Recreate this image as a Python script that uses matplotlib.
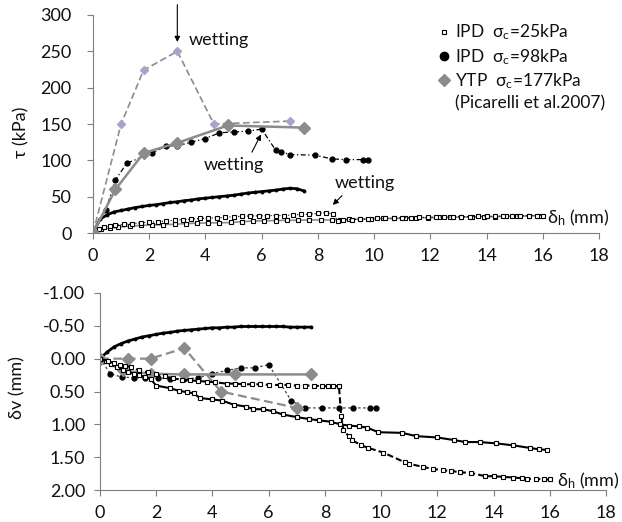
import matplotlib
matplotlib.use('Agg')
from matplotlib import pyplot as plt
from matplotlib.lines import Line2D

plt.rcParams['font.family'] = ['Lato', 'DejaVu Sans']
plt.rcParams['mathtext.fontset'] = 'custom'
plt.rcParams['mathtext.rm'] = 'Lato'
plt.rcParams['mathtext.default'] = 'rm'

# ---- shear stress vs horizontal displacement ----
# YTP (Picarelli et al. 2007), sigma_c = 177 kPa
ytp_dh = [0, 0.8, 1.8, 3.0, 4.8, 7.5]
ytp_tau = [0, 60, 110, 124, 148, 145]
ytp_wet_dh = [0, 1.0, 1.8, 3.0, 4.3, 7.0]
ytp_wet_tau = [0, 150, 224, 250, 150, 154]

# IPD sigma_c = 98 kPa
ipd98_dh = [0, 0.25, 0.5, 0.75, 1.0, 1.25, 1.5, 1.75, 2.0, 2.25, 2.5, 2.75, 3.0, 3.25, 3.5, 3.75,
            4.0, 4.25, 4.5, 4.75, 5.0, 5.25, 5.5, 5.75, 6.0, 6.25, 6.5, 6.75, 7.0, 7.25, 7.5]
ipd98_tau = [0, 19, 25, 29, 31, 33, 35, 36.5, 38, 39, 40.5, 42, 43, 44.5, 45.5, 47,
             48, 49, 50, 51, 52, 53.5, 55, 56, 57, 58, 59, 60.5, 61.5, 61, 58]
ipd98_wet_dh = [0, 0.45, 0.8, 1.2, 2.1, 2.6, 3.0, 3.5, 4.0, 4.5, 5.0, 5.5, 6.0, 6.5, 6.7, 7.0,
                7.9, 8.5, 9.0, 9.6, 9.8]
ipd98_wet_tau = [0, 31, 73, 96, 110, 120, 120, 125, 130, 138, 139, 140, 143, 114, 112, 108,
                 107, 102, 101, 101, 100]

# IPD sigma_c = 25 kPa
ipd25_dh = [0, 0.3, 0.6, 0.9, 1.3, 1.7, 2.1, 2.5, 2.9, 3.3, 3.7, 4.1, 4.5, 4.9, 5.3, 5.7, 6.1,
            6.5, 6.9, 7.3, 7.7, 8.1, 8.5, 8.8, 9.1, 9.5, 9.9, 10.3, 10.7, 11.1, 11.5, 11.9, 12.3,
            12.7, 13.1, 13.5, 13.9, 14.3, 14.7, 15.1, 15.5, 15.9]
ipd25_tau = [0, 5, 7, 8, 9.5, 10.5, 11, 11.5, 12, 13, 13.5, 14, 14, 14.5, 15.5, 16.5, 17,
             17, 17.5, 17.5, 18, 18, 18, 18.5, 19, 19, 19.5, 20, 20, 20.5, 21, 21, 21.5,
             21.5, 22, 22, 22.5, 22.5, 23, 23, 23.5, 24]
ipd25_wet_dh = [0, 0.2, 0.4, 0.6, 0.8, 1.1, 1.4, 1.7, 2.0, 2.3, 2.6, 2.9, 3.2, 3.5, 3.8, 4.1,
                4.4, 4.7, 5.0, 5.3, 5.6, 5.9, 6.2, 6.5, 6.8, 7.1, 7.4, 7.7, 8.0, 8.3, 8.55, 8.7,
                8.9, 9.2, 9.5, 9.8, 10.1, 10.4, 10.7, 11.0, 11.3, 11.6, 11.9, 12.2, 12.5, 12.8,
                13.1, 13.4, 13.7, 14.0, 14.3, 14.6, 14.9, 15.2, 15.5, 15.8, 16.0]
ipd25_wet_tau = [0, 5, 8, 10, 11, 12, 13, 14, 15, 15.5, 16.5, 17.5, 18.5, 19, 20, 20.5,
                 21, 21.5, 22.5, 23, 23.5, 23.5, 24, 24, 24, 25, 25.5, 26, 27, 28, 26, 17,
                 18, 18.5, 19, 19.5, 20, 20, 20.5, 21, 21, 21.5, 21.5, 22, 22, 22,
                 22.5, 22.5, 23, 23, 23, 23.5, 23.5, 23.5, 24, 24, 24]

# ---- vertical displacement vs horizontal displacement ----
ytp_dv = [0, 0.18, 0.23, 0.24, 0.24, 0.24]
ytp_wet_dv = [0, 0.0, 0.0, -0.16, 0.5, 0.75]

ipd98_dv = [0, -0.1, -0.18, -0.23, -0.27, -0.30, -0.33, -0.35, -0.37, -0.39, -0.40, -0.42,
            -0.43, -0.44, -0.45, -0.46, -0.47, -0.47, -0.48, -0.48, -0.49, -0.49, -0.49,
            -0.49, -0.49, -0.49, -0.49, -0.48, -0.48, -0.48, -0.48]
ipd98_wet_dh_v = [0, 0.37, 0.77, 1.2, 1.6, 2.05, 2.5, 3.0, 3.5, 4.0, 4.5, 5.0, 5.5, 6.0, 6.8,
                  7.3, 7.9, 8.5, 9.0, 9.6, 9.8]
ipd98_wet_dv = [0, 0.23, 0.28, 0.29, 0.29, 0.29, 0.31, 0.31, 0.29, 0.23, 0.18, 0.14, 0.14,
                0.09, 0.64, 0.75, 0.75, 0.75, 0.75, 0.75, 0.75]

ipd25_dh_v = [0, 0.2, 0.4, 0.6, 0.8, 1.0, 1.2, 1.4, 1.6, 1.8, 2.0, 2.5, 2.8, 3.1, 3.35, 3.55,
              4.0, 4.35, 4.75, 5.2, 5.45, 5.8, 6.15, 6.5, 7.0, 7.45, 7.8, 8.2, 8.55, 8.85, 9.2,
              9.5, 9.9, 10.75, 11.25, 12.0, 12.6, 13.0, 13.5, 14.1, 14.7, 15.3, 15.6, 15.9]
ipd25_dv = [0, 0.04, 0.08, 0.12, 0.17, 0.2, 0.23, 0.25, 0.28, 0.31, 0.41, 0.45, 0.49, 0.51,
            0.53, 0.60, 0.62, 0.64, 0.70, 0.73, 0.77, 0.77, 0.80, 0.85, 0.89, 0.92, 0.94, 0.96,
            1.0, 1.02, 1.03, 1.05, 1.12, 1.13, 1.18, 1.20, 1.24, 1.27, 1.27, 1.29, 1.32, 1.36,
            1.38, 1.39]
ipd25_wet_dh_v = [0, 0.3, 0.5, 0.7, 0.9, 1.1, 1.4, 1.7, 2.0, 2.3, 2.6, 2.9, 3.2, 3.5, 3.8, 4.1,
                  4.5, 4.8, 5.1, 5.4, 5.7, 6.0, 6.4, 6.7, 7.0, 7.3, 7.6, 7.9, 8.1, 8.3, 8.5,
                  8.58, 8.66, 8.84, 8.96, 9.3, 9.55, 10.08, 10.85, 11.0, 11.5, 11.86, 12.2,
                  12.5, 12.8, 13.2, 13.7, 14.0, 14.35, 14.7, 15.0, 15.2, 15.5, 15.8, 16.0]
ipd25_wet_dv = [0, 0.04, 0.07, 0.09, 0.11, 0.13, 0.18, 0.21, 0.24, 0.27, 0.3, 0.32, 0.33,
                0.34, 0.35, 0.36, 0.38, 0.38, 0.39, 0.39, 0.39, 0.40, 0.40, 0.40, 0.41, 0.41,
                0.41, 0.42, 0.42, 0.42, 0.42, 0.88, 1.08, 1.18, 1.24, 1.32, 1.36, 1.43, 1.58,
                1.6, 1.65, 1.68, 1.70, 1.71, 1.73, 1.74, 1.79, 1.79, 1.80, 1.81, 1.82, 1.83,
                1.83, 1.84, 1.84]

x_ticks = [0, 2, 4, 6, 8, 10, 12, 14, 16, 18]
tau_ticks = [0, 50, 100, 150, 200, 250, 300]
dv_ticks = [-1.0, -0.5, 0.0, 0.5, 1.0, 1.5, 2.0]

grey = '#8c8c8c'
lilac = '#a9a3cb'
ink = '#111111'
fs = 13
fs_leg = 12.5

fig = plt.figure(figsize=(6.22, 5.22), dpi=100)
ax1 = fig.add_axes([0.1495, 0.5536, 0.8135, 0.4177])
ax2 = fig.add_axes([0.1608, 0.0613, 0.8135, 0.3774])

sq = dict(marker='s', ms=3.2, mfc='white', mec='black', mew=0.8)

# top: shear stress
ax1.plot(ipd25_dh, ipd25_tau, color=grey, lw=1.2, **sq)
ax1.plot(ipd25_wet_dh, ipd25_wet_tau, color='black', lw=0.8, ls=':', **sq)
ax1.plot(ipd98_dh, ipd98_tau, color='black', lw=2, marker='o', ms=1.8)
ax1.plot(ipd98_wet_dh, ipd98_wet_tau, color='black', lw=0.9, ls=(0, (4, 2, 1, 2)),
         marker='o', ms=3.5)
ax1.plot(ytp_wet_dh, ytp_wet_tau, color=grey, lw=1.2, ls=(0, (4, 2)),
         marker='D', ms=4.5, mfc=lilac, mec=lilac)
ax1.plot(ytp_dh, ytp_tau, color=grey, lw=1.8, marker='D', ms=6.5)

# bottom: vertical displacement
ax2.plot(ipd98_dh, ipd98_dv, color='black', lw=2, marker='o', ms=1.8)
ax2.plot(ipd98_wet_dh_v, ipd98_wet_dv, color='#404040', lw=0.9, ls=(0, (2, 2)),
         marker='o', ms=3.5, mfc='black', mec='black')
ax2.plot(ytp_dh, ytp_dv, color=grey, lw=1.8, marker='D', ms=6.5)
ax2.plot(ytp_wet_dh, ytp_wet_dv, color=grey, lw=1.6, ls=(0, (4, 2)), marker='D', ms=6.5)
ax2.plot(ipd25_dh_v, ipd25_dv, color='black', lw=1.5, **sq)
ax2.plot(ipd25_wet_dh_v, ipd25_wet_dv, color='black', lw=1.5, ls=(0, (3, 1.5)), **sq)

for ax in (ax1, ax2):
    ax.set_xlim(0, 18)
    ax.set_xticks(x_ticks)
    for side in ('top', 'right'):
        ax.spines[side].set_visible(False)
    for side in ('left', 'bottom'):
        ax.spines[side].set_color('#7f7f7f')
    ax.tick_params(direction='out', length=4.5, color='#7f7f7f', labelsize=fs,
                   labelcolor=ink)
    ax.tick_params(axis='x', pad=6)

ax1.set_ylim(0, 300)
ax1.set_yticks(tau_ticks)
ax1.tick_params(axis='y', pad=11)
ax1.set_ylabel('τ (kPa)', fontsize=fs, color=ink)
ax1.yaxis.set_label_coords(-0.125, 0.46)

ax2.set_ylim(2.0, -1.0)
ax2.set_yticks(dv_ticks)
ax2.set_yticklabels(['%.2f' % v for v in dv_ticks])
ax2.tick_params(axis='y', pad=6)
ax2.set_ylabel('δv (mm)', fontsize=fs, color=ink)
ax2.yaxis.set_label_coords(-0.148, 0.52)

ax1.text(16.15, 20.5, 'δ$_\\mathrm{h}$ (mm)', fontsize=fs, va='center', color=ink)
ax2.text(16.25, 1.86, 'δ$_\\mathrm{h}$ (mm)', fontsize=fs, va='center', color=ink)

arrow = dict(arrowstyle='-|>', color='black', lw=0.8, mutation_scale=8)
ax1.annotate('', xy=(3.0, 259), xytext=(3.0, 318), arrowprops=arrow, annotation_clip=False)
ax1.text(3.42, 265, 'wetting', fontsize=fs, va='center', color=ink)
ax1.annotate('wetting', xy=(6.02, 139), xytext=(3.95, 93), fontsize=fs, va='center',
             color=ink, arrowprops=dict(arrow, relpos=(0.75, 1.0)))
ax1.annotate('wetting', xy=(8.46, 36), xytext=(8.6, 69), fontsize=fs, va='center',
             color=ink, arrowprops=dict(arrow, relpos=(0.2, 0.0)))

handles = [Line2D([], [], ls='none', **sq),
           Line2D([], [], ls='none', marker='o', ms=6, color='black'),
           Line2D([], [], ls='none', marker='D', ms=6.5, color=grey),
           Line2D([], [], ls='none')]
labels = ['IPD  σ$_\\mathrm{c}$=25kPa', 'IPD  σ$_\\mathrm{c}$=98kPa',
          'YTP  σ$_\\mathrm{c}$=177kPa', '(Picarelli et al.2007)']
ax1.legend(handles, labels, loc='upper left', bbox_to_anchor=(0.66, 1.02), frameon=False,
           fontsize=fs_leg, handlelength=0.6, handletextpad=0.3, labelspacing=0.25,
           borderpad=0.2, labelcolor=ink)

fig.savefig('out.png', dpi=100)
